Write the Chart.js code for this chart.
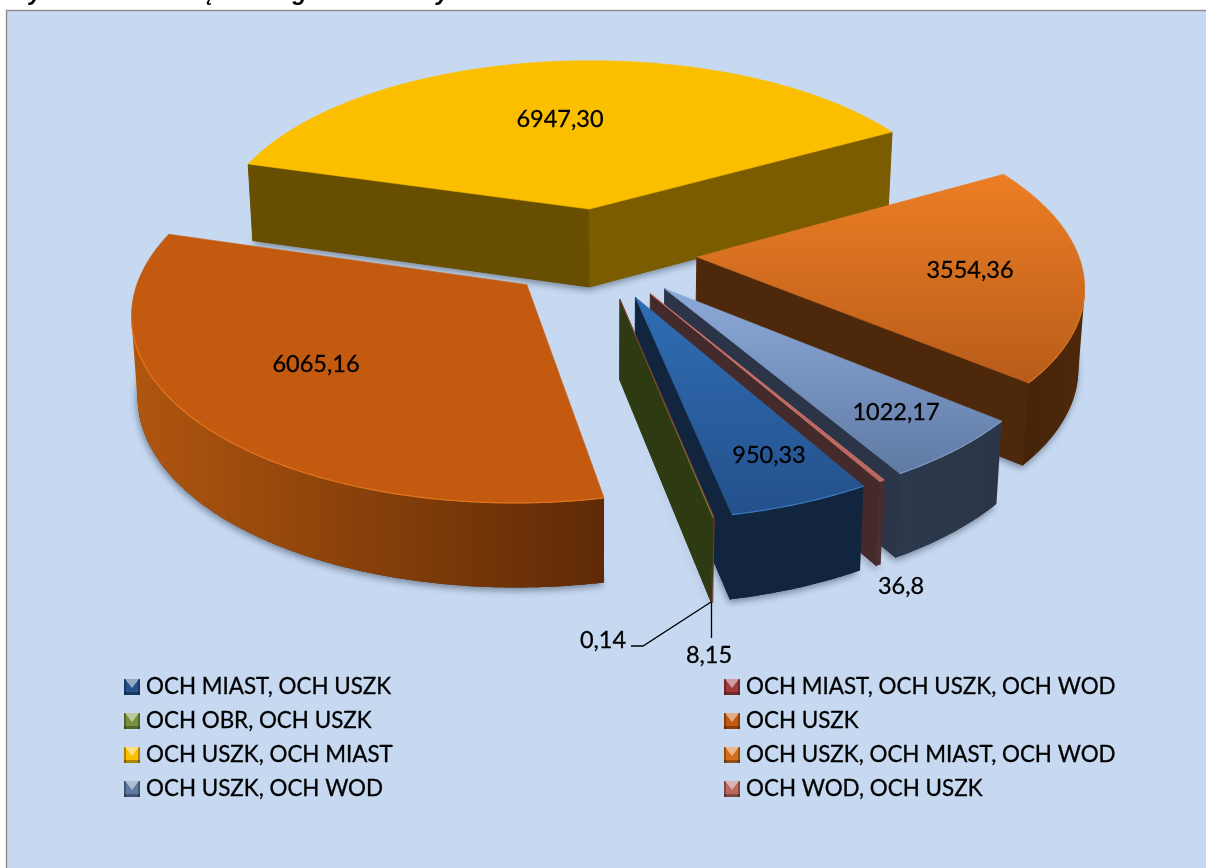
<!DOCTYPE html>
<html>
<head>
<meta charset="utf-8">
<title>Wiodąca kategoria ochrony wód</title>
<script src="https://cdn.jsdelivr.net/npm/chart.js@4"></script>
<style>
  html, body { margin: 0; padding: 0; background: #fff; overflow: hidden; }
  canvas { display: block; }
</style>
</head>
<body>
<canvas id="chart" width="1206" height="868"></canvas>
<script>
const categories = ['OCH MIAST, OCH USZK', 'OCH MIAST, OCH USZK, OCH WOD', 'OCH OBR, OCH USZK', 'OCH USZK',
  'OCH USZK, OCH MIAST', 'OCH USZK, OCH MIAST, OCH WOD', 'OCH USZK, OCH WOD', 'OCH WOD, OCH USZK'];
const values = [950.33, 0.14, 8.15, 6065.16, 6947.30, 3554.36, 1022.17, 36.8];
const valueTexts = ['950,33', '0,14', '8,15', '6065,16', '6947,30', '3554,36', '1022,17', '36,8'];

// face colours, one entry per category
const topFrom = ['#2f6db3', '#8a3030', '#76923c', '#c45a10', '#fbbf00', '#ec7e24', '#8da9d9', '#c8736c'];
const topTo = ['#24518c', '#8a3030', '#76923c', '#c45a10', '#fbbf00', '#b85c1a', '#5f7aa3', '#b9675f'];
const rimFrom = ['#12253f', '#4a1a1a', '#333f14', '#b0560f', '#674e00', '#45240a', '#2c384c', '#4e2e30'];
const rimTo = ['#12253f', '#4a1a1a', '#2e3a12', '#5e2a06', '#7b5c00', '#4e280b', '#2b3547', '#452a2c'];
const startWall = ['#12253f', '#5a2020', '#333f14', '#5e2a06', '#674e00', '#4d270c', '#2f3f58', '#51302f'];
const edgeGlow = ['#3a78bd', '#8a3030', '#76923c', '#e2761f', '#fbbf00', '#d97420', '#7f9ac6', '#d58a82'];
const markerBase = ['#24518c', '#a03a3a', '#76923c', '#c45a10', '#fbbf00', '#d46f1c', '#5f7aa3', '#b9675f'];

// where the value labels sit and in which order the slices are painted
const labelPos = [[769, 455], [603, 640], [709, 655], [316, 364], [560, 119], [970, 270], [896, 412], [901, 586]];
const drawOrder = [4, 3, 5, 6, 7, 0, 2, 1];
const legendCols = [124, 724];
const legendRows = [679, 713, 747, 781];

const tilt = 0.471;
const perspective = 0.135;
const depth = 79;
const font = 'Lato, sans-serif';

function project(arc, u, v, low) {
  const s = 1 / (1 - perspective * v);
  const x = arc.x + arc.outerRadius * u * s;
  const y = arc.y + arc.outerRadius * tilt * v * s;
  if (!low) return [x, y];
  return [arc.x + (x - arc.x) * 0.987, y + depth * (1 + 0.06 * v)];
}

function polygon(ctx, pts) {
  ctx.beginPath();
  pts.forEach((p, i) => i ? ctx.lineTo(p[0], p[1]) : ctx.moveTo(p[0], p[1]));
  ctx.closePath();
}

function quadVisible(a, b, c, d) {
  const pts = [a, b, c, d];
  let sum = 0;
  pts.forEach((p, i) => {
    const q = pts[(i + 1) % 4];
    sum += p[0] * q[1] - q[0] * p[1];
  });
  return sum < 0;
}

function drawSlice(ctx, arc, i) {
  const mid = (arc.startAngle + arc.endAngle) / 2;
  const off = arc.options.offset / 4 / arc.outerRadius;
  const cu = Math.cos(mid) * off;
  const cv = Math.sin(mid) * off;
  const steps = Math.max(1, Math.ceil((arc.endAngle - arc.startAngle) / 0.01));
  const top = [];
  const low = [];
  for (let n = 0; n <= steps; n++) {
    const a = arc.startAngle + (arc.endAngle - arc.startAngle) * n / steps;
    top.push(project(arc, cu + Math.cos(a), cv + Math.sin(a), false));
    low.push(project(arc, cu + Math.cos(a), cv + Math.sin(a), true));
  }
  const apexTop = project(arc, cu, cv, false);
  const apexLow = project(arc, cu, cv, true);
  const last = top.length - 1;

  // a slice this thin only shows as a hairline along its edge
  if (values[i] < 1) {
    ctx.strokeStyle = topTo[i];
    ctx.lineWidth = 1;
    ctx.beginPath();
    ctx.moveTo(apexTop[0], apexTop[1]);
    ctx.lineTo(top[0][0], top[0][1]);
    ctx.lineTo(low[0][0], low[0][1]);
    ctx.stroke();
    return;
  }

  // soft shadow under the whole block
  ctx.save();
  ctx.shadowColor = 'rgba(50, 60, 80, 0.55)';
  ctx.shadowBlur = 7;
  ctx.shadowOffsetY = 3;
  ctx.shadowOffsetX = -1;
  ctx.fillStyle = rimTo[i];
  polygon(ctx, [apexLow].concat(low));
  ctx.fill();
  ctx.restore();

  // radial walls
  ctx.lineWidth = 1;
  if (quadVisible(apexTop, top[0], low[0], apexLow)) {
    ctx.fillStyle = ctx.strokeStyle = startWall[i];
    polygon(ctx, [apexTop, top[0], low[0], apexLow]);
    ctx.fill();
    ctx.stroke();
  }
  if (quadVisible(top[last], apexTop, apexLow, low[last])) {
    ctx.fillStyle = ctx.strokeStyle = rimTo[i];
    polygon(ctx, [top[last], apexTop, apexLow, low[last]]);
    ctx.fill();
    ctx.stroke();
  }

  // outer wall, only the part that faces the camera
  const front = [];
  for (let n = 0; n < last; n++) {
    if (quadVisible(top[n], top[n + 1], low[n + 1], low[n])) front.push(n);
  }
  if (front.length) {
    const first = front[0];
    const end = front[front.length - 1] + 1;
    const upper = top.slice(first, end + 1);
    const lower = low.slice(first, end + 1).reverse();
    const xs = upper.map(p => p[0]);
    const g = ctx.createLinearGradient(Math.min(...xs), 0, Math.max(...xs), 0);
    g.addColorStop(0, rimFrom[i]);
    g.addColorStop(1, rimTo[i]);
    ctx.fillStyle = g;
    polygon(ctx, upper.concat(lower));
    ctx.fill();
  }

  // top face
  const ys = top.map(p => p[1]).concat(apexTop[1]);
  const tg = ctx.createLinearGradient(0, Math.min(...ys), 0, Math.max(...ys));
  tg.addColorStop(0, topFrom[i]);
  tg.addColorStop(1, topTo[i]);
  ctx.fillStyle = tg;
  ctx.strokeStyle = tg;
  ctx.lineWidth = i === 2 ? 0.2 : (values[i] < 100 ? 1 : 0.6);
  polygon(ctx, [apexTop].concat(top));
  ctx.fill();
  ctx.stroke();

  // light bevel along the rim
  if (front.length && values[i] >= 100) {
    ctx.strokeStyle = edgeGlow[i];
    ctx.lineWidth = 1.2;
    ctx.beginPath();
    top.slice(front[0], front[front.length - 1] + 2).forEach((p, n) => n ? ctx.lineTo(p[0], p[1]) : ctx.moveTo(p[0], p[1]));
    ctx.stroke();
  }
}

function drawMarker(ctx, x, y, i) {
  const s = 16;
  ctx.fillStyle = markerBase[i];
  ctx.fillRect(x, y, s, s);
  ctx.fillStyle = 'rgba(0,0,0,0.3)';
  ctx.fillRect(x, y + s - 3, s, 3);
  ctx.fillRect(x, y, 2, s);
  ctx.fillRect(x + s - 2, y, 2, s);
  ctx.fillStyle = 'rgba(255,255,255,0.5)';
  polygon(ctx, [[x + 1, y], [x + s - 1, y], [x + s / 2, y + 9]]);
  ctx.fill();
}

function drawText(ctx, t, x, y) {
  ctx.fillText(t, x, y);
  ctx.strokeText(t, x, y);
}

const pie3d = {
  id: 'pie3d',
  beforeDraw(chart) {
    const ctx = chart.ctx;
    ctx.save();
    ctx.fillStyle = '#c6d9f1';
    ctx.fillRect(6, 10, 1206, 868);
    ctx.strokeStyle = '#8c8c8c';
    ctx.lineWidth = 1.4;
    ctx.strokeRect(6.5, 10.5, 1300, 900);
    // caption cut off by the top of the page
    ctx.fillStyle = '#000';
    ctx.font = 'italic bold 23.5px "Liberation Sans", sans-serif';
    ctx.textBaseline = 'alphabetic';
    ctx.textAlign = 'left';
    ctx.fillText('Rysunek 3. Wiodąca kategoria ochrony wód', 12, 0);
    ctx.restore();
  },
  beforeDatasetsDraw(chart) {
    const ctx = chart.ctx;
    const arcs = chart.getDatasetMeta(0).data;
    ctx.save();
    ctx.lineJoin = 'round';
    drawOrder.forEach(i => drawSlice(ctx, arcs[i], i));
    ctx.restore();
    return false;
  },
  afterDraw(chart) {
    const ctx = chart.ctx;
    ctx.save();
    // leader lines for the two thinnest slices
    ctx.strokeStyle = '#000';
    ctx.lineWidth = 1.3;
    ctx.beginPath();
    ctx.moveTo(631, 646);
    ctx.lineTo(643, 646);
    ctx.lineTo(711, 602);
    ctx.moveTo(711.5, 602);
    ctx.lineTo(711.5, 638);
    ctx.stroke();

    ctx.fillStyle = '#000';
    ctx.lineWidth = 0.3;
    ctx.font = '23.5px ' + font;
    ctx.textBaseline = 'middle';
    ctx.textAlign = 'center';
    valueTexts.forEach((t, i) => drawText(ctx, t, labelPos[i][0], labelPos[i][1]));

    ctx.textAlign = 'left';
    ctx.font = '22.4px ' + font;
    categories.forEach((name, i) => {
      const x = legendCols[i % 2];
      const y = legendRows[Math.floor(i / 2)];
      drawMarker(ctx, x, y, i);
      ctx.fillStyle = '#000';
      drawText(ctx, name, x + 22, y + 8);
    });
    ctx.restore();
  }
};

new Chart(document.getElementById('chart'), {
  type: 'pie',
  data: {
    labels: categories,
    datasets: [{
      data: values,
      backgroundColor: markerBase,
      borderWidth: 0,
      offset: 388
    }]
  },
  options: {
    responsive: false,
    animation: false,
    events: [],
    rotation: 150.1,
    radius: 381,
    layout: { padding: { right: 6, bottom: 362 } },
    plugins: { legend: { display: false }, tooltip: { enabled: false } }
  },
  plugins: [pie3d]
});
</script>
</body>
</html>
